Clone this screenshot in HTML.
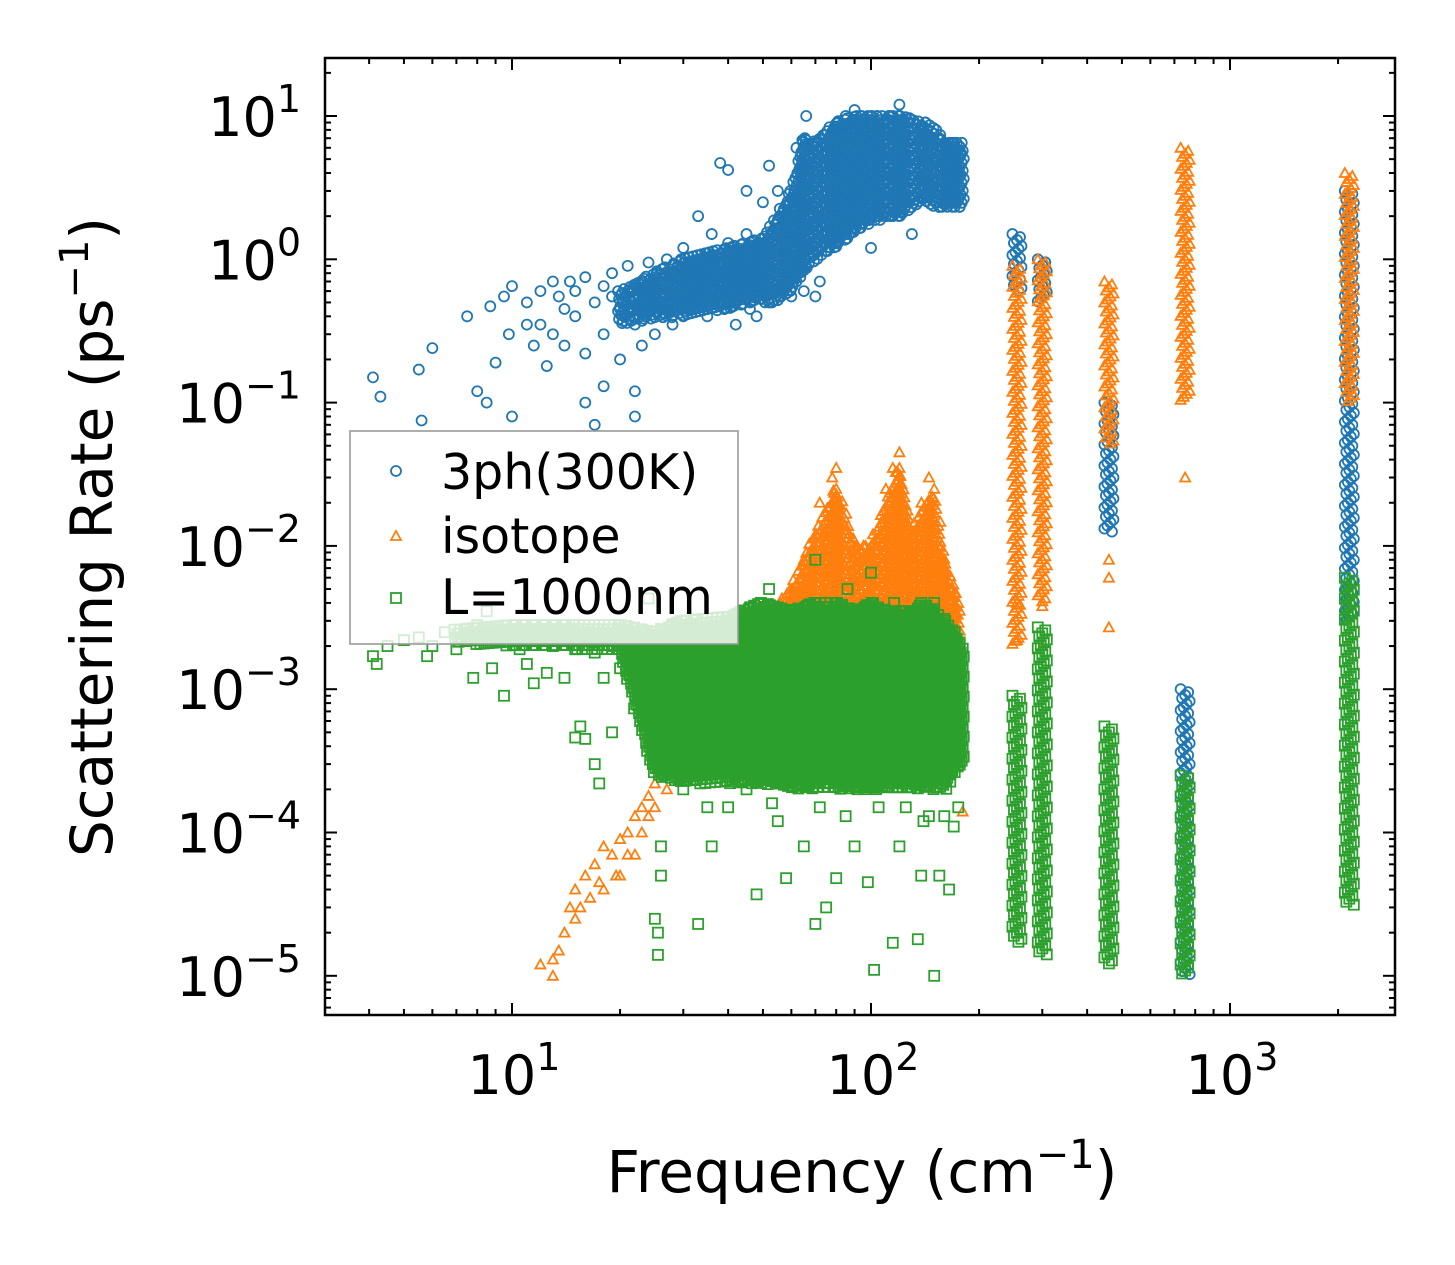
<!DOCTYPE html>
<html><head><meta charset="utf-8">
<style>
html,body{margin:0;padding:0;background:#fff;}
svg{display:block;font-family:"DejaVu Sans","Liberation Sans",sans-serif;}
</style></head>
<body>
<svg id="chart" width="1455" height="1265" viewBox="0 0 1455 1265" xmlns="http://www.w3.org/2000/svg">
<rect x="0" y="0" width="1455" height="1265" fill="#fff"/>
<g id="marks"></g>
<g id="axes"></g>
<g id="legend">
  <rect x="350" y="431" width="388" height="213" fill="#fff" fill-opacity="0.8" stroke="#999" stroke-width="1.6"/>
  <g>
    <circle cx="396" cy="471" r="5" fill="none" stroke="#1f77b4" stroke-width="1.8"/>
    <text x="441" y="489" font-size="49" fill="#000">3ph(300K)</text>
  </g>
  <g>
    <polygon points="396,531 401,540 391,540" fill="none" stroke="#ff7f0e" stroke-width="1.8"/>
    <text x="441" y="553" font-size="49" fill="#000">isotope</text>
  </g>
  <g>
    <rect x="391" y="593" width="10" height="10" fill="none" stroke="#2ca02c" stroke-width="1.8"/>
    <text x="441" y="614" font-size="49" fill="#000">L=1000nm</text>
  </g>
</g>
<text x="862" y="1192" font-size="58" text-anchor="middle" fill="#000">Frequency (cm<tspan dy="-24" font-size="40">−1</tspan><tspan dy="24">)</tspan></text>
<text transform="translate(112,537) rotate(-90)" font-size="58" text-anchor="middle" fill="#000">Scattering Rate (ps<tspan dy="-24" font-size="40">−1</tspan><tspan dy="24">)</tspan></text>
</svg>
<script>
// ---- data ----
const xTickExps = [1, 2, 3];
const yTickExps = [1, 0, -1, -2, -3, -4, -5];
const blueScatter = [[4.1,0.15],[4.3,0.11],[5.5,0.17],[5.6,0.075],[6.0,0.24],[7.5,0.4],[8,0.12],[8.5,0.1],[8.7,0.47],[9,0.19],[9.5,0.55],[9.8,0.3],[10,0.65],[10,0.08],[11,0.5],[11.5,0.25],[12,0.6],[12,0.35],[12.5,0.18],[13,0.3],[13.5,0.55],[14,0.25],[14.5,0.7],[15,0.4],[16,0.75],[16,0.22],[17,0.5],[17,0.07],[18,0.65],[18,0.3],[19,0.8],[20,0.45],[21,0.9],[22,0.35],[22,0.12],[23,0.6],[24,0.95],[25,0.7],[26,0.5],[27,1.0],[28,0.8],[30,1.2],[30,0.4],[32,0.9],[33,2.0],[35,1.1],[36,1.5],[38,0.9],[40,1.3],[42,0.8],[45,1.5],[48,1.2],[50,1.0],[38,4.7],[40,4.2],[45,3.0],[50,2.5],[52,4.5],[55,1.5],[55,3.0],[58,2.0],[60,0.8],[60,1.8],[62,6],[63,3],[65,2.5],[66,10],[68,5],[70,4],[72,2],[75,3],[78,6],[80,8],[82,4],[85,10],[88,5],[90,11],[92,3],[95,7],[98,4],[100,9],[102,5],[105,2],[108,8],[110,4],[112,10],[115,6],[118,3],[120,12],[122,7],[125,5],[128,9],[130,1.5],[132,6],[135,4],[140,8],[145,3],[150,5],[155,7],[160,3.5],[165,5],[170,6],[175,4],[178,5.5],[72,0.7],[65,0.6],[85,1.5],[100,1.2],[110,2],[60,0.55],[48,0.4],[44,0.6],[40,0.5],[25,0.3],[28,0.35],[20,0.2],[19,0.55],[23,0.25],[27,0.45],[35,0.4],[42,0.35],[52,0.5],[15,0.6],[14,0.45],[13,0.7],[11,0.35],[18,0.13],[16,0.1],[22,0.08],[70,0.55],[56,0.6],[46,0.45],[62,0.7],[95,1.8],[105,3.0],[115,2.0],[125,2.5]];
const blueBandF  = [20, 25, 30, 40, 50, 55, 60, 65, 70, 80, 90, 100, 120, 140, 150, 160, 170, 180];
const blueBandLo = [0.35, 0.38, 0.4, 0.45, 0.5, 0.5, 0.6, 0.8, 1.0, 1.2, 1.5, 1.8, 2.0, 2.5, 2.3, 2.3, 2.3, 2.3];
const blueBandHi = [0.6, 0.8, 1.0, 1.2, 1.4, 2.0, 3.0, 7.0, 6.5, 9.0, 10, 10, 10, 9.0, 8.0, 6.5, 6.5, 6.5];
const blueCols = [[255,[0.6,0.7,0.8,0.9,1.0,1.1,1.2,1.3,1.4,1.5]],[300,[0.5,0.6,0.7,0.8,0.9,1.0]],[460,[0.012,0.015,0.02,0.03,0.04,0.05,0.06,0.08,0.1]],[750,[1e-5,2e-5,4e-5,8e-5,1.5e-4,3e-4,5e-4,8e-4,1e-3]],[2150,[0.003,0.006,0.01,0.02,0.05,0.1,0.2,0.5,1.0,2.0,3.0]]];
const orangeScatter = [[12,1.2e-5],[13,1e-5],[13.5,1.5e-5],[13,1.3e-5],[14,2e-5],[14.5,3e-5],[15,4e-5],[15,2.5e-5],[15.5,3e-5],[16,5e-5],[16.5,3.5e-5],[17,6e-5],[17.5,4.5e-5],[18,8e-5],[18,4e-5],[19,7e-5],[19.5,5e-5],[20,9e-5],[20,5e-5],[21,1e-4],[21,7e-5],[22,1.3e-4],[22,7e-5],[23,1.5e-4],[23,1e-4],[24,1.8e-4],[24,1.3e-4],[25,2.2e-4],[25,1.5e-4],[26,3e-4],[27,2e-4],[28,4e-4],[30,5e-4],[60,3e-3],[65,8e-3],[72,2e-2],[78,3e-2],[80,3.5e-2],[110,2.5e-2],[115,3.5e-2],[120,4.5e-2],[145,3e-2],[150,2.5e-2],[142,1.6e-2],[175,4e-3],[180,1.4e-4]];
const orangeBandF  = [30, 40, 50, 60, 70, 80, 90, 100, 110, 120, 130, 140, 150, 160, 170, 178];
const orangeBandLo = [2.5e-4, 3e-4, 3e-4, 3e-4, 3e-4, 3e-4, 4e-4, 4e-4, 4e-4, 4e-4, 4e-4, 4e-4, 4e-4, 4e-4, 4e-4, 4e-4];
const orangeBandHi = [6e-4, 2e-3, 3e-3, 5e-3, 1.2e-2, 2.5e-2, 1e-2, 1e-2, 2e-2, 3.5e-2, 1.2e-2, 2e-2, 2.2e-2, 8e-3, 5e-3, 3e-3];
const orangeCols = [[255,[2e-3,5e-3,0.01,0.02,0.05,0.1,0.2,0.4,0.7,0.9]],[300,[0.004,0.01,0.03,0.1,0.3,0.6,1.0]],[460,[0.05,0.1,0.2,0.4,0.7]],[750,[0.1,0.3,1.0,3.0,6.0]],[2150,[0.1,0.3,1.0,2.0,4.0]]];
const orangeColsSparse = [[255,[2.2e-3,4e-3]],[300,[3.8e-3,2e-3]],[460,[8e-3,6e-3,2.7e-3]],[750,[0.03]]];
const greenScatter = [[4.1,1.7e-3],[4.2,1.5e-3],[4.5,2e-3],[5,2.2e-3],[5.5,2.3e-3],[5.8,1.7e-3],[6,2e-3],[6.5,2.5e-3],[7,1.9e-3],[7.5,2.4e-3],[7.8,1.2e-3],[8,2.8e-3],[8.5,3.5e-3],[8.8,1.4e-3],[9,2.2e-3],[9.5,0.9e-3],[10,2.6e-3],[10.5,1.9e-3],[11,1.5e-3],[11,2.5e-3],[11.5,1.1e-3],[12,2.3e-3],[12.5,1.3e-3],[13,2.8e-3],[13,2e-3],[14,2.4e-3],[14,1.2e-3],[15,1.9e-3],[15,4.6e-4],[15.5,5.5e-4],[16,2.5e-3],[16,4.5e-4],[17,1.8e-3],[17,3e-4],[17.5,2.2e-4],[18,2.6e-3],[18,1.2e-3],[19,2e-3],[19,5e-4],[20,2.4e-3],[20,1.4e-3],[21,2.2e-3],[22,1.8e-3],[23,2.5e-3],[24,4.3e-3],[24,1.2e-3],[25,2.5e-5],[25.5,1.4e-5],[26,5e-5],[26,8e-5],[25.5,2e-5],[52,5e-3],[64,3.5e-3],[70,8e-3],[86,5e-3],[100,6.5e-3],[116,4e-3],[150,4e-3],[30,2e-4],[35,1.5e-4],[40,1.5e-4],[45,2e-4],[48,3.7e-5],[55,1.2e-4],[58,4.8e-5],[65,8e-5],[70,2.3e-5],[72,1.5e-4],[75,3e-5],[80,4.8e-5],[85,1.3e-4],[90,8e-5],[98,4.5e-5],[102,1.1e-5],[105,1.5e-4],[115,1.7e-5],[120,8e-5],[125,1.5e-4],[135,1.8e-5],[138,5e-5],[140,1.2e-4],[145,1.3e-4],[150,1e-5],[155,5e-5],[165,4e-5],[170,1.1e-4],[33,2.3e-5],[36,8e-5],[53,1.6e-4],[160,1.3e-4],[175,1.5e-4]];
const greenBandF  = [7, 10, 15, 20, 25, 30, 40, 50, 60, 70, 80, 90, 100, 110, 120, 130, 140, 150, 160, 170, 180];
const greenBandLo = [2.1e-3, 2.0e-3, 1.9e-3, 1.8e-3, 2.5e-4, 2.2e-4, 2.2e-4, 2.2e-4, 2e-4, 2e-4, 2e-4, 2e-4, 2e-4, 2e-4, 2e-4, 2e-4, 2e-4, 2e-4, 2e-4, 2.5e-4, 3e-4];
const greenBandHi = [2.6e-3, 2.8e-3, 2.8e-3, 2.8e-3, 2.5e-3, 3e-3, 3.2e-3, 4e-3, 3.5e-3, 4e-3, 4e-3, 3.5e-3, 4e-3, 3.5e-3, 3.5e-3, 3.5e-3, 4e-3, 3.5e-3, 3e-3, 2.5e-3, 2e-3];
const greenCols = [[255,[1.7e-5,3e-5,6e-5,1e-4,2e-4,4e-4,7e-4,9e-4]],[300,[1.4e-5,3e-5,1e-4,3e-4,1e-3,2e-3,2.7e-3]],[460,[1.2e-5,3e-5,1e-4,3e-4,5.5e-4]],[750,[1e-5,3e-5,1e-4,2.5e-4]],[2150,[3e-5,1e-4,5e-4,2e-3,6e-3]]];

// ---- scales ----
const PX0 = 325, PX1 = 1395, PY0 = 58, PY1 = 1015;
function xs(f){ return 512 + (Math.log10(f) - 1) * 359; }
function ys(v){ return 116 - (Math.log10(v) - 1) * 143.3; }
const NS = "http://www.w3.org/2000/svg";
const marks = document.getElementById('marks');
const axes = document.getElementById('axes');
function mk(tag, attrs, parent){
  const e = document.createElementNS(NS, tag);
  for (const k in attrs) e.setAttribute(k, attrs[k]);
  parent.appendChild(e);
  return e;
}
function drawMarkerPx(kind, x, y, color, g){
  if (x < PX0 || x > PX1 || y < PY0 || y > PY1) return;
  let e;
  if (kind === 'c') e = mk('circle', {cx:x, cy:y, r:5, fill:'none', stroke:color, 'stroke-width':1.8}, g);
  else if (kind === 't') e = mk('polygon', {points:`${x},${y-5} ${x+5},${y+4} ${x-5},${y+4}`, fill:'none', stroke:color, 'stroke-width':1.8}, g);
  else e = mk('rect', {x:x-5, y:y-5, width:10, height:10, fill:'none', stroke:color, 'stroke-width':1.8}, g);
  
  
}
function drawMarker(kind, f, v, color, g){ drawMarkerPx(kind, xs(f), ys(v), color, g); }
function drawColumns(kind, color, cols, g, spread){
  cols.forEach(c => {
    const vals = c[1];
    const xc = xs(c[0]);
    const yTop = ys(Math.max(...vals)), yBot = ys(Math.min(...vals));
    let k = 0;
    for (let y = yTop; y <= yBot; y += 3, k++) {
      drawMarkerPx(kind, xc + ((k * 5) % 7 - 3) * spread, y, color, g);
    }
  });
}
function drawSparseCols(kind, color, cols, g){
  cols.forEach(c => c[1].forEach(v => drawMarker(kind, c[0], v, color, g)));
}
function drawBand(kind, color, F, LO, HI, g){
  let k = 0;
  for (let i = 0; i + 1 < F.length; i++) {
    const x0 = xs(F[i]), x1 = xs(F[i+1]);
    for (let x = x0; x < x1; x += 4) {
      const t = (x - x0) / (x1 - x0);
      const yLo = ys(LO[i]) + (ys(LO[i+1]) - ys(LO[i])) * t;
      const yHi = ys(HI[i]) + (ys(HI[i+1]) - ys(HI[i])) * t;
      for (let y = yHi; y <= yLo; y += 4, k++) drawMarkerPx(kind, x + ((k * 3) % 5 - 2), y, color, g);
    }
  }
}
function series(name){
  const g = mk('g', {}, marks);
  
  
  return g;
}
const gB = series('series-3ph');
blueScatter.forEach(p => drawMarker('c', p[0], p[1], '#1f77b4', gB));
drawBand('c', '#1f77b4', blueBandF, blueBandLo, blueBandHi, gB);
drawColumns('c', '#1f77b4', blueCols, gB, 1.5);
const gO = series('series-isotope');
orangeScatter.forEach(p => drawMarker('t', p[0], p[1], '#ff7f0e', gO));
drawBand('t', '#ff7f0e', orangeBandF, orangeBandLo, orangeBandHi, gO);
drawColumns('t', '#ff7f0e', orangeCols, gO, 1.5);
drawSparseCols('t', '#ff7f0e', orangeColsSparse, gO);
const gG = series('series-boundary');
greenScatter.forEach(p => drawMarker('s', p[0], p[1], '#2ca02c', gG));
drawBand('s', '#2ca02c', greenBandF, greenBandLo, greenBandHi, gG);
drawColumns('s', '#2ca02c', greenCols, gG, 1.5);

// ---- axes ----
const frame = mk('rect', {x:PX0, y:PY0, width:PX1-PX0, height:PY1-PY0, fill:'none', stroke:'#000', 'stroke-width':2.5}, axes);


for (let e = 0; e <= 3; e++) {
  for (let m = 1; m <= 9; m++) {
    const x = xs(m * Math.pow(10, e));
    if (x < PX0 || x > PX1) continue;
    const len = m === 1 ? 12 : 6;
    const t1 = mk('line', {x1:x, y1:PY1, x2:x, y2:PY1-len, stroke:'#000', 'stroke-width':2}, axes);
    
    
    const t2 = mk('line', {x1:x, y1:PY0, x2:x, y2:PY0+len, stroke:'#000', 'stroke-width':2}, axes);
    
    
  }
}
for (let e = -6; e <= 1; e++) {
  for (let m = 1; m <= 9; m++) {
    const y = ys(m * Math.pow(10, e));
    if (y < PY0 || y > PY1) continue;
    const len = m === 1 ? 12 : 6;
    const t1 = mk('line', {x1:PX0, y1:y, x2:PX0+len, y2:y, stroke:'#000', 'stroke-width':2}, axes);
    
    
    const t2 = mk('line', {x1:PX1, y1:y, x2:PX1-len, y2:y, stroke:'#000', 'stroke-width':2}, axes);
    
    
  }
}
function expLabel(ex){ return ex < 0 ? '−' + (-ex) : String(ex); }
xTickExps.forEach(ex => {
  const t = mk('text', {x:xs(Math.pow(10, ex)) + 2, y:1094, 'font-size':54, 'text-anchor':'middle', fill:'#000'}, axes);
  
  
  t.innerHTML = '10<tspan dy="-24" font-size="38">' + expLabel(ex) + '</tspan>';
});
yTickExps.forEach(ex => {
  const t = mk('text', {x:301, y:ys(Math.pow(10, ex)) + 20, 'font-size':54, 'text-anchor':'end', fill:'#000'}, axes);
  
  
  t.innerHTML = '10<tspan dy="-24" font-size="38">' + expLabel(ex) + '</tspan>';
});
</script>
</body></html>
